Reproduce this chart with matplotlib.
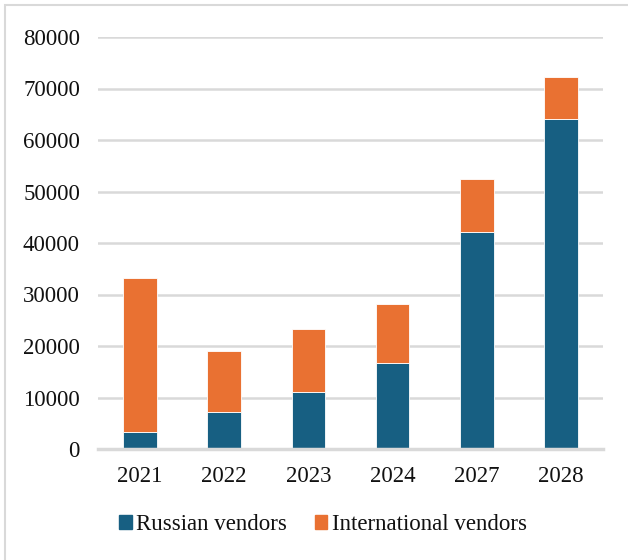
import matplotlib
matplotlib.use("Agg")
import matplotlib.pyplot as plt
from matplotlib.patches import Rectangle, Patch
import numpy as np

years = ["2021", "2022", "2023", "2024", "2027", "2028"]
russian = [3300, 7200, 11100, 16700, 42100, 64100]
international = [29900, 11800, 12200, 11400, 10300, 8100]

c_ru = "#175F82"
c_int = "#E97132"

plt.rcParams['font.family'] = ['Liberation Serif', 'DejaVu Serif']

fig = plt.figure(figsize=(6.28, 5.6), dpi=100)
ax = fig.add_axes([98/628, 1-449/560, (603-98)/628, (449-37)/560])

x = np.arange(len(years))
ax.bar(x, russian, width=0.4, color=c_ru, edgecolor="white", linewidth=0.6, zorder=3)
ax.bar(x, international, width=0.4, bottom=russian, color=c_int, edgecolor="white", linewidth=0.6, zorder=3)

ax.set_xlim(-0.5, len(years)-0.5)
ax.set_ylim(0, 80000)
ax.set_yticks(range(0, 80001, 10000))
ax.set_yticklabels([str(v) for v in range(0, 80001, 10000)])
ax.set_xticks(x)
ax.set_xticklabels(years)
ax.tick_params(axis='both', length=0, labelsize=16.5, colors="#111111")
ax.tick_params(axis='y', pad=13)
ax.tick_params(axis='x', pad=12)
ax.grid(axis='y', color="#D9D9D9", linewidth=1.8, zorder=0)
for s in ["top", "right", "left"]:
    ax.spines[s].set_visible(False)
ax.spines["bottom"].set_color("#D9D9D9")
ax.spines["bottom"].set_linewidth(2.5)
ax.spines["bottom"].set_zorder(4)

handles = [Patch(color=c_ru, label="Russian vendors"), Patch(color=c_int, label="International vendors")]
leg = fig.legend(handles=handles, loc="center", bbox_to_anchor=(323/628, 1-525/560), ncol=2,
                 frameon=False, fontsize=16.5, handlelength=0.55, handleheight=0.55,
                 handletextpad=0.2, columnspacing=1.2)
for t in leg.get_texts():
    t.set_color("#111111")

fig.add_artist(Rectangle((5/628, -0.1), 1.2, 1 - 5/560 + 0.1, transform=fig.transFigure,
                         fill=False, edgecolor="#D9D9D9", linewidth=1.5))

fig.savefig("out.png", dpi=100)
